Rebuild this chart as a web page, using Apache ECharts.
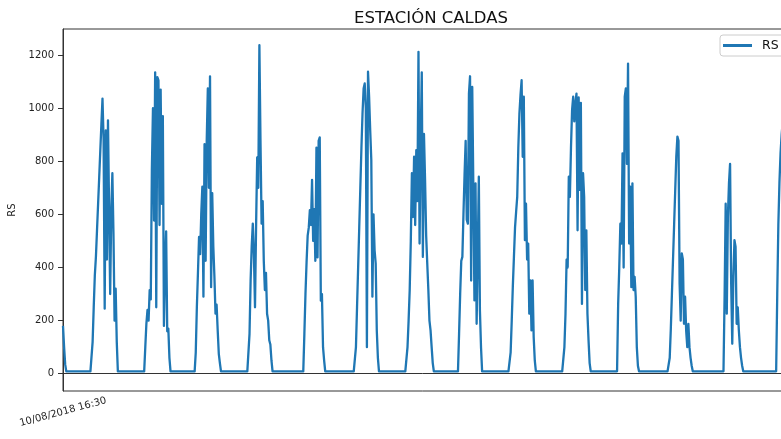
<!DOCTYPE html>
<html>
<head>
<meta charset="utf-8">
<script src="https://cdn.jsdelivr.net/npm/echarts@6/dist/echarts.min.js"></script>
<style>
html, body { margin: 0; padding: 0; background: #fff; }
#main { width: 781px; height: 439px; }
</style>
</head>
<body>
<div id="main"></div>
<script>
// one row per day, half-hour readings (first day starts at 16:30, last ends at 15:00)
var days = ['10/08/2018','11/08/2018','12/08/2018','13/08/2018','14/08/2018','15/08/2018','16/08/2018',
            '17/08/2018','18/08/2018','19/08/2018','20/08/2018','21/08/2018','22/08/2018','23/08/2018','24/08/2018'];

var rs1008 = [180,100,35,9,9,9,9,9,9,9,9,9,9,9,9];
var rs1108 = [9,9,9,9,9,9,9,9,9,9,9,9,
  120,250,370,440,540,640,740,840,940,1036,880,245,916,430,954,620,300,616,755,528,200,320,120,
  9,9,9,9,9,9,9,9,9,9,9,9,9];
var rs1208 = [9,9,9,9,9,9,9,9,9,9,9,9,
  100,188,240,200,315,280,769,1000,577,1135,250,1117,1105,560,1070,640,970,180,400,536,160,170,60,
  9,9,9,9,9,9,9,9,9,9,9,9,9];
var rs1308 = [9,9,9,9,9,9,9,9,9,9,
  80,250,380,515,450,600,704,290,864,425,877,1074,700,1120,326,680,480,366,226,260,163,75,40,
  9,9,9,9,9,9,9,9,9,9,9,9,9,9,9];
var rs1408 = [9,9,9,9,9,9,9,9,9,9,9,
  150,350,480,565,450,250,560,815,700,1237,877,565,650,425,315,380,226,200,126,110,50,
  9,9,9,9,9,9,9,9,9,9,9,9,9,9,9,9];
var rs1508 = [9,9,9,9,9,9,9,9,9,9,9,9,9,
  150,300,420,520,550,616,560,730,500,620,425,851,438,877,890,275,300,100,50,
  9,9,9,9,9,9,9,9,9,9,9,9,9,9,9,9];
var rs1608 = [9,9,9,9,9,9,9,9,9,9,9,9,
  100,250,400,550,700,850,980,1074,1093,1000,100,1137,1043,917,805,290,600,465,415,163,60,
  9,9,9,9,9,9,9,9,9,9,9,9,9,9,9];
var rs1708 = [9,9,9,9,9,9,9,9,9,9,9,
  100,200,315,500,755,590,817,560,842,650,1212,490,877,1135,440,903,730,520,415,315,200,163,100,40,
  9,9,9,9,9,9,9,9,9,9,9,9,9];
var rs1808 = [9,9,9,9,9,9,9,9,9,9,
  150,300,425,440,600,750,877,580,565,1055,1120,351,1080,704,276,717,188,450,742,238,100,
  9,9,9,9,9,9,9,9,9,9,9,9,9,9,9,9,9];
var rs1908 = [9,9,9,9,9,9,9,9,9,
  80,200,330,440,550,610,666,850,980,1050,1105,817,1043,503,640,430,490,226,351,163,351,138,50,
  9,9,9,9,9,9,9,9,9,9,9,9,9,9,9,9];
var rs2008 = [9,9,9,9,9,9,9,9,9,9,
  100,226,430,400,742,666,851,993,1043,950,1018,1055,540,1040,692,1020,263,755,666,315,540,226,126,40,
  9,9,9,9,9,9,9,9,9,9,9,9,9,9];
var rs2108 = [9,9,9,9,9,9,9,9,9,9,9,
  263,400,565,490,830,400,1043,1074,790,1168,490,704,326,717,315,365,290,100,30,
  9,9,9,9,9,9,9,9,9,9,9,9,9,9,9,9,9,9];
var rs2208 = [9,9,9,9,9,9,9,9,9,9,
  60,170,300,430,560,690,820,893,877,340,200,453,430,188,290,160,100,188,100,60,30,
  9,9,9,9,9,9,9,9,9,9,9,9,9,9,9,9,9];
var rs2308 = [9,9,9,9,9,9,9,9,9,9,9,9,
  290,640,226,590,717,790,340,113,365,503,478,188,250,163,100,60,30,
  9,9,9,9,9,9,9,9,9,9,9,9,9,9,9,9,9,9,9];
var rs2408 = [9,9,9,9,9,9,9,9,9,9,9,9,
  300,560,720,830,900,950,980,1000,1020,990,1010,960,900,820,760,700,620,540,480];

var dayRows = [rs1008,rs1108,rs1208,rs1308,rs1408,rs1508,rs1608,rs1708,rs1808,rs1908,rs2008,rs2108,rs2208,rs2308,rs2408];
var yTicks = [0, 200, 400, 600, 800, 1000, 1200];
var tickLabels = ['10/08/2018 16:30'];

function pad(n) { return n < 10 ? '0' + n : '' + n; }

var fechas = [];
var rs = [];
dayRows.forEach(function (row, d) {
    var start = d === 0 ? 48 - row.length : 0;
    row.forEach(function (v, j) {
        var slot = start + j;
        fechas.push(days[d] + ' ' + pad(Math.floor(slot / 2)) + ':' + (slot % 2 ? '30' : '00'));
        rs.push(v);
    });
});

var myChart = echarts.init(document.getElementById('main'));

option = {
    animation: false,
    textStyle: { fontFamily: 'DejaVu Sans' },
    title: {
        text: 'ESTACIÓN CALDAS',
        left: 426,
        top: 5,
        textAlign: 'center',
        textStyle: { fontSize: 16.5, fontWeight: 'normal', color: '#111', fontFamily: 'DejaVu Sans' }
    },
    legend: {
        data: ['RS'],
        left: 720,
        top: 35,
        icon: 'rect',
        itemWidth: 29,
        itemHeight: 3,
        padding: [4, 14, 4, 3],
        borderColor: '#ccc',
        borderWidth: 1,
        borderRadius: 3,
        backgroundColor: 'rgba(255,255,255,0.8)',
        textStyle: { fontSize: 12.5, color: '#111', padding: [0, 0, 0, 5], fontFamily: 'DejaVu Sans' }
    },
    grid: {
        left: 63,
        top: 29,
        width: 734,
        height: 362,
        outerBoundsMode: 'none',
        show: true,
        borderColor: '#333',
        borderWidth: 1
    },
    xAxis: {
        type: 'category',
        data: fechas,
        boundaryGap: false,
        axisLine: { lineStyle: { color: '#333', width: 1 } },
        axisTick: {
            interval: function (i) { return i === 0; },
            length: 5,
            lineStyle: { color: '#333' }
        },
        axisLabel: {
            interval: function (i) { return i === 0; },
            formatter: function (v, i) { return i === 0 ? tickLabels[0] : ''; },
            rotate: 15,
            align: 'center',
            verticalAlign: 'middle',
            margin: 21,
            fontSize: 10,
            color: '#222'
        },
        splitLine: { show: false }
    },
    yAxis: {
        type: 'value',
        name: 'RS',
        nameLocation: 'middle',
        nameGap: 37,
        nameTextStyle: { fontSize: 10, color: '#222' },
        min: -65,
        max: 1298,
        axisLine: { show: true, lineStyle: { color: '#333', width: 1 } },
        axisTick: { show: true, length: 5, customValues: yTicks, lineStyle: { color: '#333' } },
        axisLabel: {
            customValues: yTicks,
            formatter: function (v) { return String(v); },
            margin: 9,
            fontSize: 10,
            color: '#222'
        },
        splitLine: { show: false }
    },
    series: [
        {
            name: 'RS',
            type: 'line',
            data: rs,
            showSymbol: false,
            symbol: 'none',
            color: '#1f77b4',
            lineStyle: { width: 2.3, color: '#1f77b4', join: 'round' }
        }
    ]
};

myChart.setOption(option);
</script>
</body>
</html>
